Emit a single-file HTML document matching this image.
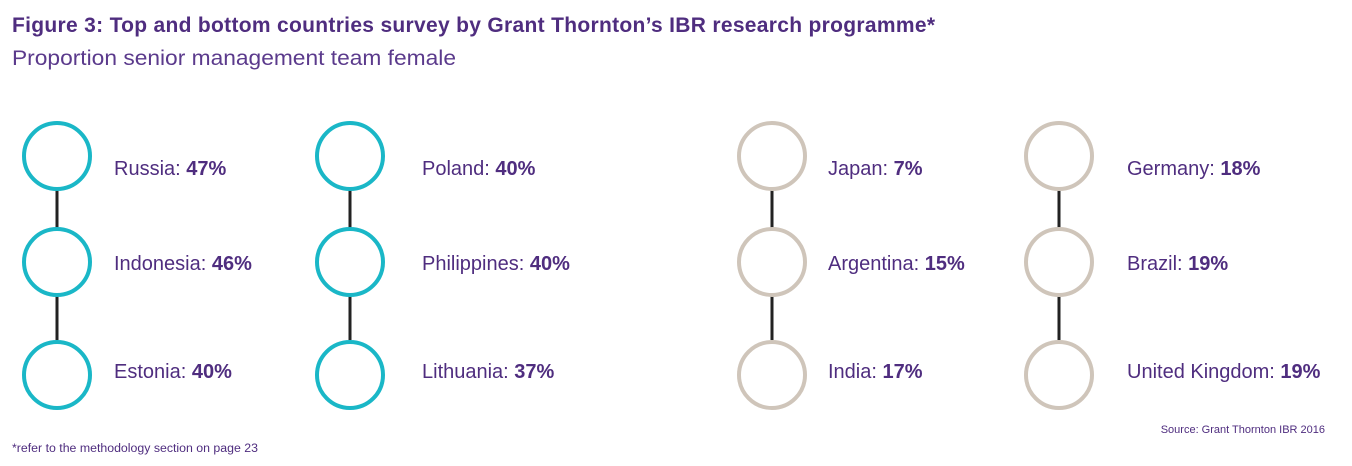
<!DOCTYPE html>
<html><head><meta charset="utf-8"><style>
body{margin:0;background:#fff;}
svg{display:block}
text{font-family:"Liberation Sans",sans-serif;fill:#4f2d7f}
</style></head><body>
<svg width="1352" height="466" viewBox="0 0 1352 466">
<text x="12" y="32" font-size="21" font-weight="bold" fill="#4f2d7f" textLength="923" lengthAdjust="spacing">Figure 3: Top and bottom countries survey by Grant Thornton’s IBR research programme*</text>
<text x="12" y="65" font-size="21.5" style="fill:#5b3a8c" textLength="444" lengthAdjust="spacingAndGlyphs">Proportion senior management team female</text>
<g stroke="#222" stroke-width="3">
<line x1="57" y1="190" x2="57" y2="228"/><line x1="57" y1="296" x2="57" y2="340"/>
<line x1="350" y1="190" x2="350" y2="228"/><line x1="350" y1="296" x2="350" y2="340"/>
<line x1="772" y1="190" x2="772" y2="228"/><line x1="772" y1="296" x2="772" y2="340"/>
<line x1="1059" y1="190" x2="1059" y2="228"/><line x1="1059" y1="296" x2="1059" y2="340"/>
</g>
<g fill="#fff" stroke-width="4">
<g stroke="#1ab7c7">
<circle cx="57" cy="156" r="33"/><circle cx="57" cy="262" r="33"/><circle cx="57" cy="375" r="33"/>
<circle cx="350" cy="156" r="33"/><circle cx="350" cy="262" r="33"/><circle cx="350" cy="375" r="33"/>
</g>
<g stroke="#cfc5ba">
<circle cx="772" cy="156" r="33"/><circle cx="772" cy="262" r="33"/><circle cx="772" cy="375" r="33"/>
<circle cx="1059" cy="156" r="33"/><circle cx="1059" cy="262" r="33"/><circle cx="1059" cy="375" r="33"/>
</g></g>
<g font-size="20">
<text x="114" y="175">Russia: <tspan font-weight="bold">47%</tspan></text>
<text x="114" y="270">Indonesia: <tspan font-weight="bold">46%</tspan></text>
<text x="114" y="378">Estonia: <tspan font-weight="bold">40%</tspan></text>
<text x="422" y="175">Poland: <tspan font-weight="bold">40%</tspan></text>
<text x="422" y="270">Philippines: <tspan font-weight="bold">40%</tspan></text>
<text x="422" y="378">Lithuania: <tspan font-weight="bold">37%</tspan></text>
<text x="828" y="175">Japan: <tspan font-weight="bold">7%</tspan></text>
<text x="828" y="270">Argentina: <tspan font-weight="bold">15%</tspan></text>
<text x="828" y="378">India: <tspan font-weight="bold">17%</tspan></text>
<text x="1127" y="175">Germany: <tspan font-weight="bold">18%</tspan></text>
<text x="1127" y="270">Brazil: <tspan font-weight="bold">19%</tspan></text>
<text x="1127" y="378">United Kingdom: <tspan font-weight="bold">19%</tspan></text>
</g>
<text x="1325" y="433" font-size="11" text-anchor="end">Source: Grant Thornton IBR 2016</text>
<text x="12" y="452" font-size="11.5" textLength="246" lengthAdjust="spacingAndGlyphs">*refer to the methodology section on page 23</text>
</svg>
</body></html>
